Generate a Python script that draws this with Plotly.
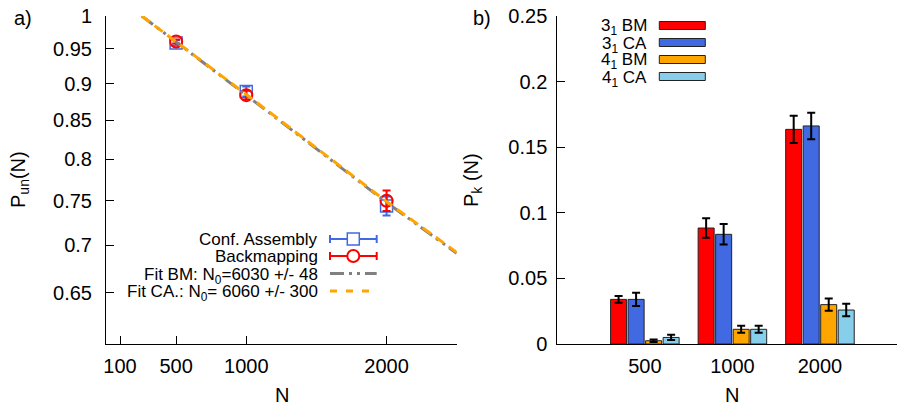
import plotly.graph_objects as go

# ---------------- data: panel a) ----------------
N_pts = [500, 1000, 2000]
P_ca = [0.959, 0.889, 0.744]
P_ca_err = [0.004, 0.007, 0.011]
P_bm = [0.961, 0.884, 0.750]
P_bm_err = [0.003, 0.006, 0.012]

N_fit = [255, 1000, 2000, 2500]
P_fit_bm = [1.0, 0.884, 0.748, 0.691]
P_fit_ca = [1.0, 0.885, 0.749, 0.692]

a_xticks = [100, 500, 1000, 2000]
a_yticks = [1, 0.95, 0.9, 0.85, 0.8, 0.75, 0.7, 0.65]
a_yticktext = ["1", "0.95", "0.9", "0.85", "0.8", "0.75", "0.7", "0.65"]

# ---------------- data: panel b) ----------------
b_cats = ["500", "1000", "2000"]
k31_bm = [0.034, 0.0884, 0.1636]
k31_bm_err = [0.0025, 0.0074, 0.0104]
k31_ca = [0.034, 0.0836, 0.1662]
k31_ca_err = [0.005, 0.0078, 0.0101]
k41_bm = [0.0025, 0.0112, 0.030]
k41_bm_err = [0.001, 0.0027, 0.0046]
k41_ca = [0.005, 0.0112, 0.0259]
k41_ca_err = [0.002, 0.0027, 0.0048]
b_yticks = [0, 0.05, 0.1, 0.15, 0.2, 0.25]
b_yticktext = ["0", "0.05", "0.1", "0.15", "0.2", "0.25"]

FONT = "Liberation Sans, Arial, sans-serif"
RED = "#FF0000"
BLUE = "#4169E1"
ORANGE = "#FFA500"
SKY = "#87CEEB"
GRAY = "#808080"

W, H = 898, 409
T, B = 16, 65
PH = H - T - B


def px(x):
    return x / W


def py(y):
    return (T + PH - y) / PH


fig = go.Figure()

# panel a traces
fig.add_trace(go.Scatter(
    x=N_pts, y=P_ca, mode="markers", xaxis="x", yaxis="y",
    marker=dict(symbol="square-open", size=12, color=BLUE, line=dict(width=1.5, color=BLUE)),
    error_y=dict(type="data", array=P_ca_err, color=BLUE, thickness=2, width=4),
    showlegend=False))
fig.add_trace(go.Scatter(
    x=N_pts, y=P_bm, mode="markers", xaxis="x", yaxis="y",
    marker=dict(symbol="circle-open", size=12, color=RED, line=dict(width=2, color=RED)),
    error_y=dict(type="data", array=P_bm_err, color=RED, thickness=2, width=4),
    showlegend=False))
fig.add_trace(go.Scatter(
    x=N_fit, y=P_fit_bm, mode="lines", xaxis="x", yaxis="y",
    line=dict(color=GRAY, width=3, dash="14px,5px,3px,5px,3px,5px"),
    showlegend=False))
fig.add_trace(go.Scatter(
    x=N_fit, y=P_fit_ca, mode="lines", xaxis="x", yaxis="y",
    line=dict(color=ORANGE, width=3, dash="10px,6px"),
    showlegend=False))

# panel b traces
for vals, errs, col in [(k31_bm, k31_bm_err, RED), (k31_ca, k31_ca_err, BLUE),
                        (k41_bm, k41_bm_err, ORANGE), (k41_ca, k41_ca_err, SKY)]:
    fig.add_trace(go.Bar(
        x=b_cats, y=vals, xaxis="x2", yaxis="y2",
        marker=dict(color=col, line=dict(color="#222222", width=1)),
        error_y=dict(type="data", array=errs, color="black", thickness=2, width=4),
        showlegend=False))

axis_common = dict(showline=True, linecolor="black", linewidth=1, showgrid=False,
                   zeroline=False, ticks="inside", ticklen=8, tickwidth=1, automargin=False,
                   tickcolor="black", tickfont=dict(family=FONT, size=20, color="black"))

fig.update_layout(
    width=W, height=H,
    margin=dict(l=0, r=0, t=T, b=B, autoexpand=False),
    paper_bgcolor="white", plot_bgcolor="white",
    font=dict(family=FONT, color="black"),
    barmode="group", bargap=0.2, bargroupgap=0.085,
    xaxis=dict(domain=[px(106), px(456.7)], range=[0, 2500], tickmode="array",
               tickvals=a_xticks, ticklabelstandoff=4, anchor="y", **axis_common),
    yaxis=dict(domain=[0, 1], type="log", range=[-0.22185, 0], tickmode="array",
               tickvals=a_yticks, ticktext=a_yticktext, ticklabelstandoff=9,
               anchor="x", **axis_common),
    xaxis2=dict(domain=[px(557.3), px(897)], type="category", range=[-1.0, 2.88],
                anchor="y2", showline=True, linecolor="black", linewidth=1, automargin=False,
                showgrid=False, zeroline=False, ticks="", ticklabelstandoff=4,
                tickfont=dict(family=FONT, size=20, color="black")),
    yaxis2=dict(domain=[0, 1], range=[0, 0.25], tickmode="array", tickvals=b_yticks,
                ticktext=b_yticktext, anchor="x2", ticklabelstandoff=5, **axis_common),
)

ann = []


def label(text, x, y, size=20, xanchor="center", angle=0):
    ann.append(dict(text=text, x=px(x), y=py(y), xref="paper", yref="paper",
                    xanchor=xanchor, yanchor="middle", showarrow=False, textangle=angle,
                    font=dict(size=size, family=FONT, color="black")))


# axis titles and panel labels
label("N", 281.5, 395)
label("N", 732, 395)
label("P<sub>un</sub>(N)", 19, 180, angle=-90)
label("P<sub>k</sub> (N)", 472, 180, angle=-90)
label("a)", 23, 18)
label("b)", 482, 18)

shapes = []
# legend panel a
a_leg_text = ["Conf. Assembly", "Backmapping", "Fit BM: N<sub>0</sub>=6030 +/- 48",
              "Fit CA.: N<sub>0</sub>= 6060 +/- 300"]
a_rows = [239, 256, 273.5, 291]
for t, r in zip(a_leg_text, a_rows):
    label(t, 320, r + (2 if "<sub>" in t else 0), size=17, xanchor="right")
x0l, x1l, xm = px(330), px(376.7), px(353.3)
for r, col, sym in [(a_rows[0], BLUE, "rect"), (a_rows[1], RED, "circle")]:
    yr = py(r)
    shapes.append(dict(type="line", xref="paper", yref="paper", x0=x0l, x1=x1l, y0=yr, y1=yr,
                       line=dict(color=col, width=2)))
    for xe in (x0l, x1l):
        shapes.append(dict(type="line", xref="paper", yref="paper", x0=xe, x1=xe,
                           y0=yr - 4 / PH, y1=yr + 4 / PH, line=dict(color=col, width=2)))
    shapes.append(dict(type=sym, xref="paper", yref="paper", xsizemode="pixel", ysizemode="pixel",
                       xanchor=xm, yanchor=yr, x0=-6, x1=6, y0=-6, y1=6,
                       fillcolor="white", line=dict(color=col, width=2 if sym == "circle" else 1.5)))
shapes.append(dict(type="line", xref="paper", yref="paper", x0=x0l, x1=x1l,
                   y0=py(a_rows[2]), y1=py(a_rows[2]),
                   line=dict(color=GRAY, width=3, dash="14px,5px,3px,5px,3px,5px")))
shapes.append(dict(type="line", xref="paper", yref="paper", x0=x0l, x1=x1l,
                   y0=py(a_rows[3]), y1=py(a_rows[3]),
                   line=dict(color=ORANGE, width=3, dash="7px,9px")))

# legend panel b
b_leg_text = ["3<sub>1</sub> BM", "3<sub>1</sub> CA", "4<sub>1</sub> BM", "4<sub>1</sub> CA"]
b_rows = [25.5, 42.5, 59.5, 76.5]
for t, r, col in zip(b_leg_text, b_rows, [RED, BLUE, ORANGE, SKY]):
    label(t, 649, r + 2, size=17, xanchor="right")
    shapes.append(dict(type="rect", xref="paper", yref="paper", x0=px(659.3), x1=px(705.3),
                       y0=py(r + 4), y1=py(r - 4), fillcolor=col,
                       line=dict(color="#222222", width=1)))

fig.update_layout(annotations=ann, shapes=shapes)
fig.write_html("out.html", config={"displayModeBar": False},
               post_script="document.body.style.margin='0px';document.body.style.overflow='hidden';")
